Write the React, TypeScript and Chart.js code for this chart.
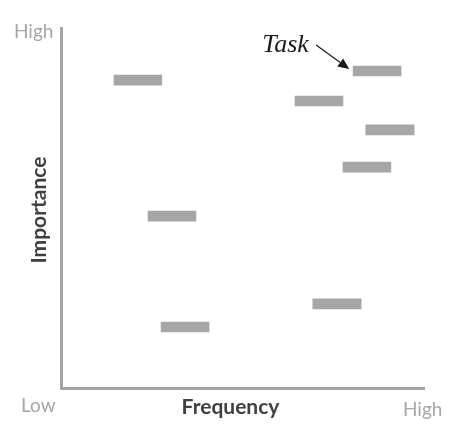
import React, { useEffect, useRef } from "react";
import { Chart, registerables } from "chart.js";

Chart.register(...registerables);

// Frequency (0 = low, 100 = high): start and end of each task bar
const freqStart = [14.3, 64.2, 80.2, 83.7, 77.4, 23.7, 69.1, 27.3];
const freqEnd = [27.5, 77.4, 93.4, 97.0, 90.6, 36.9, 82.4, 40.5];
// Importance (0 = low, 100 = high)
const importance = [85.3, 79.5, 87.8, 71.5, 61.2, 47.6, 23.3, 16.9];
const taskIndex = 2;
const axisLow = "Low";
const axisHigh = "High";
const xTitle = "Frequency";
const yTitle = "Importance";
const annotation = "Task";

const GRAY = "#a6a6a6";
const BASE_FONT = "Lato, 'Open Sans', sans-serif";

const decorPlugin = {
  id: "decor",
  afterDraw(chart: any) {
    const { ctx, chartArea } = chart;
    const { left, right, top, bottom } = chartArea;
    ctx.save();
    // axes
    ctx.strokeStyle = GRAY;
    ctx.lineWidth = 3;
    ctx.lineJoin = "miter";
    ctx.beginPath();
    ctx.moveTo(left - 0.5, top);
    ctx.lineTo(left - 0.5, bottom + 0.5);
    ctx.lineTo(right, bottom + 0.5);
    ctx.stroke();

    // low / high labels
    ctx.fillStyle = GRAY;
    ctx.font = `19px ${BASE_FONT}`;
    ctx.textBaseline = "alphabetic";
    ctx.textAlign = "left";
    ctx.fillText(axisHigh, left - 48, top + 11);
    ctx.fillText(axisLow, left - 41, bottom + 24);
    ctx.fillText(axisHigh, right - 22, bottom + 28);

    // axis titles
    ctx.fillStyle = "#404040";
    ctx.font = `bold 21px ${BASE_FONT}`;
    ctx.textAlign = "center";
    ctx.fillText(xTitle, 230.5, bottom + 26);
    ctx.save();
    ctx.translate(left - 16, 210);
    ctx.rotate(-Math.PI / 2);
    ctx.fillText(yTitle, 0, 0);
    ctx.restore();

    // annotation pointing to the task bar
    const xs = chart.scales.x;
    const ys = chart.scales.y;
    const bx = xs.getPixelForValue(freqStart[taskIndex]);
    const by = ys.getPixelForValue(importance[taskIndex]);
    const tipX = bx - 4;
    const tipY = by - 2;
    ctx.fillStyle = "#1a1a1a";
    ctx.strokeStyle = "#1a1a1a";
    ctx.font = `italic 26px 'Liberation Serif', serif`;
    ctx.textAlign = "left";
    ctx.fillText(annotation, tipX - 87, tipY - 17);
    const sx = tipX - 33;
    const sy = tipY - 24;
    const ang = Math.atan2(tipY - sy, tipX - sx);
    const hl = 11;
    const hw = 5;
    const bxp = tipX - hl * Math.cos(ang);
    const byp = tipY - hl * Math.sin(ang);
    ctx.lineWidth = 1.2;
    ctx.beginPath();
    ctx.moveTo(sx, sy);
    ctx.lineTo(bxp, byp);
    ctx.stroke();
    ctx.beginPath();
    ctx.moveTo(tipX, tipY);
    ctx.lineTo(bxp + hw * Math.sin(ang), byp - hw * Math.cos(ang));
    ctx.lineTo(bxp - hw * Math.sin(ang), byp + hw * Math.cos(ang));
    ctx.closePath();
    ctx.fill();
    ctx.restore();
  },
};

export default function App() {
  const ref = useRef<HTMLCanvasElement | null>(null);
  useEffect(() => {
    if (!ref.current) return;
    const data = importance.map((imp, i) => ({ x: [freqStart[i], freqEnd[i]], y: imp }));
    const chart = new Chart(ref.current, {
      type: "bar",
      data: {
        datasets: [
          {
            data: data as any,
            backgroundColor: GRAY,
            borderWidth: 0,
            barThickness: 10,
          },
        ],
      },
      options: {
        indexAxis: "y",
        responsive: false,
        animation: false,
        layout: { padding: { left: 62, right: 46, top: 27, bottom: 48 } },
        plugins: { legend: { display: false }, tooltip: { enabled: false } },
        scales: {
          x: { type: "linear", min: 0, max: 100, display: false, offset: false },
          y: { type: "linear", min: 0, max: 100, display: false, offset: false },
        },
      },
      plugins: [decorPlugin],
    });
    return () => chart.destroy();
  }, []);
  return (
    <div style={{ position: "absolute", left: 0, top: 0, width: 471, height: 436, background: "#fff" }}>
      <canvas ref={ref} width={471} height={436} />
    </div>
  );
}
